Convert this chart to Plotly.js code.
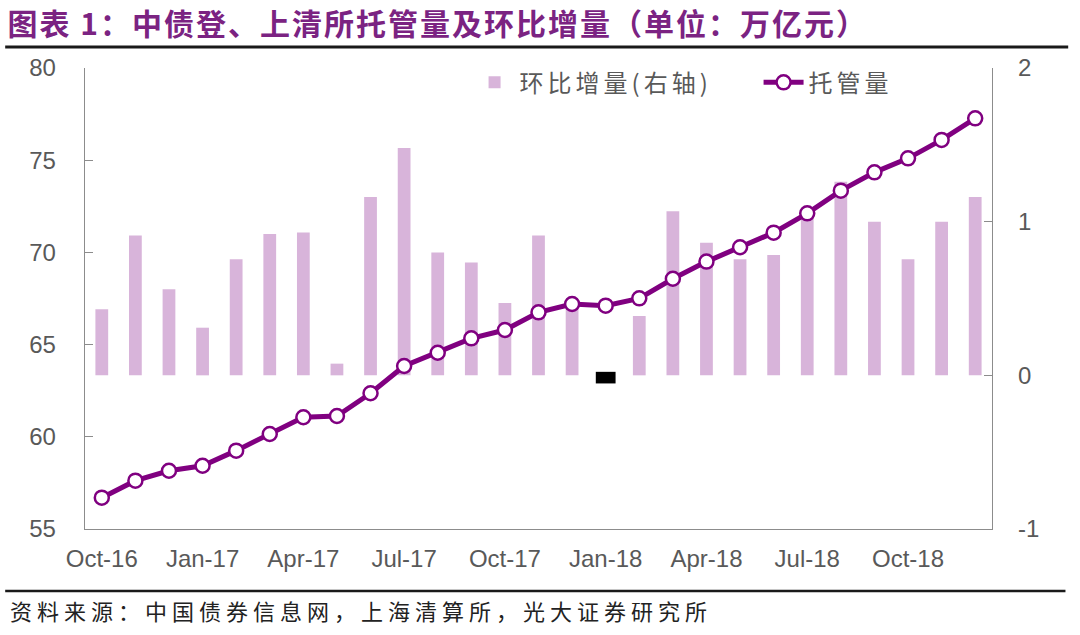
<!DOCTYPE html>
<html>
<head>
<meta charset="utf-8">
<script src="https://cdn.plot.ly/plotly-3.0.1.min.js"></script>
<style>
  html, body { margin: 0; padding: 0; background: #ffffff; }
  #chart { width: 1080px; height: 635px; }
  .gtitle { letter-spacing: 2px; }
  .annotation-text { letter-spacing: 5px; }
  .legendtext { letter-spacing: 4px; }
</style>
</head>
<body>
<div id="chart"></div>
<script>
// ---- data ----
var months = ["Oct-16","Nov-16","Dec-16","Jan-17","Feb-17","Mar-17","Apr-17","May-17","Jun-17",
              "Jul-17","Aug-17","Sep-17","Oct-17","Nov-17","Dec-17","Jan-18","Feb-18","Mar-18",
              "Apr-18","May-18","Jun-18","Jul-18","Aug-18","Sep-18","Oct-18","Nov-18","Dec-18"];
// 托管量 (万亿元, left axis)
var custody = [56.70,57.62,58.16,58.43,59.25,60.15,61.06,61.13,62.36,63.84,64.56,65.34,65.79,
               66.75,67.20,67.11,67.51,68.57,69.50,70.28,71.07,72.12,73.35,74.34,75.10,76.10,77.27];
// 环比增量 (万亿元, right axis)
var momChange = [0.43,0.91,0.56,0.31,0.755,0.92,0.93,0.076,1.16,1.48,0.80,0.735,0.47,
                 0.91,0.45,-0.03,0.386,1.067,0.863,0.755,0.783,1.03,1.26,1.00,0.755,1.00,1.16];
var tickMonths = ["Oct-16","Jan-17","Apr-17","Jul-17","Oct-17","Jan-18","Apr-18","Jul-18","Oct-18"];
var leftTicks = [55, 60, 65, 70, 75, 80];
var rightTicks = [-1, 0, 1, 2];
var rightTickText = ["-1", "0", "1", "2"];

var barName = "环比增量(右轴)";
var lineName = "托管量";
var titleText = "图表 1：中债登、上清所托管量及环比增量（单位：万亿元）";
var sourceText = "资料来源：中国债券信息网，上海清算所，光大证券研究所";

// ---- styles ----
var barColor = "#D8B4DA";
var negColor = "#000000";
var lineColor = "#800080";
var axisColor = "#8C8C8C";
var tickColor = "#595959";

var barColors = momChange.map(function (v) { return v < 0 ? negColor : barColor; });
var barLineW = momChange.map(function (v) { return v < 0 ? 7 : 0; });

var traces = [
  {
    type: "bar",
    name: barName,
    x: months,
    y: momChange,
    yaxis: "y",
    width: 0.38,
    legendwidth: 234,
    marker: { color: barColors, line: { color: negColor, width: barLineW } },
    hoverinfo: "x+y"
  },
  {
    type: "scatter",
    mode: "lines+markers",
    name: lineName,
    x: months,
    y: custody,
    yaxis: "y2",
    legendwidth: 100,
    line: { color: lineColor, width: 5 },
    marker: { symbol: "circle", size: 14, color: "#ffffff", line: { color: lineColor, width: 2.5 } },
    hoverinfo: "x+y"
  }
];

var tickFont = { family: "Liberation Sans, Arial, sans-serif", size: 24, color: tickColor };

var layout = {
  width: 1080,
  height: 635,
  margin: { l: 85, r: 88, t: 68, b: 106 },
  paper_bgcolor: "#ffffff",
  plot_bgcolor: "#ffffff",
  title: {
    text: titleText,
    font: { family: "Noto Sans CJK SC, sans-serif", size: 30, color: "#7B2382", weight: "bold" },
    xref: "container", x: 0.007, xanchor: "left",
    yref: "container", y: 0.962, yanchor: "middle"
  },
  showlegend: true,
  legend: {
    orientation: "h",
    x: 0.424, xanchor: "left",
    y: 0.968, yanchor: "middle",
    bgcolor: "rgba(0,0,0,0)",
    font: { family: "Noto Sans CJK SC, sans-serif", size: 24, color: tickColor },
    traceorder: "normal",
    itemwidth: 40
  },
  xaxis: {
    type: "category",
    range: [-0.5, 26.5],
    tickmode: "array",
    tickvals: tickMonths,
    ticktext: tickMonths,
    ticks: "",
    showline: true, linecolor: axisColor, linewidth: 1.3,
    showgrid: false, zeroline: false,
    tickfont: tickFont,
    ticklabelstandoff: 8,
    fixedrange: true
  },
  yaxis: {
    side: "right",
    range: [-1, 2],
    tickmode: "array",
    tickvals: rightTicks,
    ticktext: rightTickText,
    ticks: "inside", ticklen: 8, tickcolor: axisColor, tickwidth: 1.3,
    showline: true, linecolor: axisColor, linewidth: 1.3,
    showgrid: false, zeroline: false,
    tickfont: tickFont,
    ticklabelstandoff: 20,
    fixedrange: true
  },
  yaxis2: {
    overlaying: "y",
    side: "left",
    range: [55, 80],
    tickmode: "array",
    tickvals: leftTicks,
    ticks: "inside", ticklen: 8, tickcolor: axisColor, tickwidth: 1.3,
    showline: true, linecolor: axisColor, linewidth: 1.3,
    showgrid: false, zeroline: false,
    tickfont: tickFont,
    ticklabelstandoff: 23,
    fixedrange: true
  },
  shapes: [
    { type: "line", xref: "paper", yref: "paper", x0: -0.088, x1: 1.084, y0: 1.0455, y1: 1.0455,
      line: { color: "#1a1a1a", width: 3 } },
    { type: "line", xref: "paper", yref: "paper", x0: -0.088, x1: 1.081, y0: -0.1345, y1: -0.1345,
      line: { color: "#1a1a1a", width: 2.5 } }
  ],
  annotations: [
    { text: sourceText, xref: "paper", yref: "paper", x: -0.085, xanchor: "left",
      y: -0.176, yanchor: "middle", showarrow: false,
      font: { family: "Noto Sans CJK SC, sans-serif", size: 22, color: "#222222" } }
  ]
};

Plotly.newPlot("chart", traces, layout, { displayModeBar: false, staticPlot: true });
</script>
</body>
</html>
